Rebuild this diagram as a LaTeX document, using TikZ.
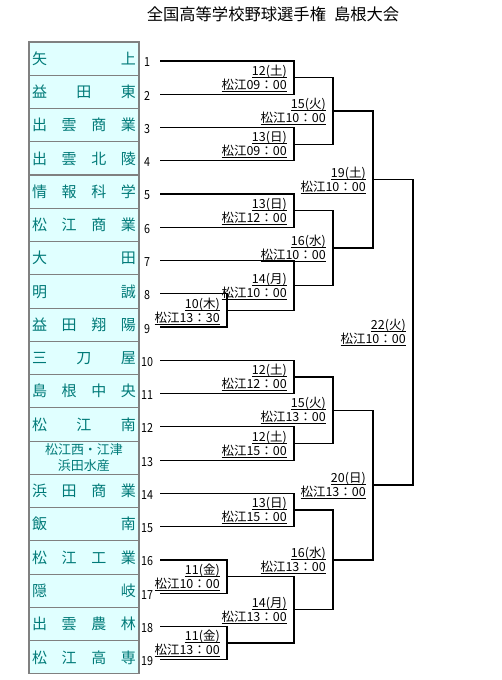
\documentclass[tikz,border=0pt]{standalone}
\usepackage{fontspec}
\setmainfont{Noto Sans CJK JP}
\newfontfamily\jpnarrow[FakeStretch=0.86]{Noto Sans CJK JP}
\definecolor{boxfill}{HTML}{E0FFFF}
\definecolor{boxline}{HTML}{808080}
\definecolor{teamtxt}{HTML}{007A78}
\newcommand{\teamtext}[1]{\raisebox{-2.5pt}{\makebox[104pt]{#1}}}
\newcommand{\ulne}[1]{\setbox0=\hbox{#1}\rlap{\rule[-2.4pt]{\wd0}{0.9pt}}\box0}
\newcommand{\datelabel}[2]{\ulne{#1}\\\ulne{#2}}
\tikzset{
  team/.style={draw=boxline, fill=boxfill, line width=1.1pt, minimum width=110pt,
    minimum height=33.26pt, inner sep=0pt, text=teamtxt,
    font=\fontsize{15}{15}\selectfont},
  teamnum/.style={inner sep=0pt, font=\jpnarrow\fontsize{12.5}{12.5}\selectfont},
  datelbl/.style={anchor=east, align=right, inner sep=0pt,
    font=\fontsize{12.5}{14}\selectfont},
  bracket/.style={line width=1.25pt, black},
  titletxt/.style={inner sep=0pt, font=\fontsize{16.3}{16.3}\selectfont}
}
\begin{document}
\begin{tikzpicture}[x=1pt,y=-1pt]
\useasboundingbox (0,0) rectangle (502,680);
\node[titletxt] (title) at (273,14) {全国高等学校野球選手権\hspace{8pt}島根大会};
\foreach \i/\name in {1/{矢\hfill 上},2/{益\hfill 田\hfill 東},3/{出\hfill 雲\hfill 商\hfill 業},
  4/{出\hfill 雲\hfill 北\hfill 陵},5/{情\hfill 報\hfill 科\hfill 学},6/{松\hfill 江\hfill 商\hfill 業},
  7/{大\hfill 田},8/{明\hfill 誠},9/{益\hfill 田\hfill 翔\hfill 陽},10/{三\hfill 刀\hfill 屋},
  11/{島\hfill 根\hfill 中\hfill 央},12/{松\hfill 江\hfill 南},14/{浜\hfill 田\hfill 商\hfill 業},
  15/{飯\hfill 南},16/{松\hfill 江\hfill 工\hfill 業},17/{隠\hfill 岐},18/{出\hfill 雲\hfill 農\hfill 林},
  19/{松\hfill 江\hfill 高\hfill 専}} {
  \node[team] (team\i) at (84,{58.63+33.26*(\i-1)}) {\teamtext{\name}};
}
\node[team, align=center, font=\fontsize{13}{17}\selectfont] (team13) at (84,457.75)
  {\raisebox{-1pt}{松江西・江津}\\浜田水産};
\foreach \i in {1,...,19} {
  \node[teamnum] (num\i) at (147,{62.5+33.26*(\i-1)}) {\i};
  \coordinate (t\i) at (160,{61+33.26*(\i-1)});
}
% match junctions
\coordinate (m1) at (294,77.63);
\coordinate (m2) at (294,144.15);
\coordinate (m3) at (333,110.89);
\coordinate (m4) at (294,210.67);
\coordinate (m5) at (227,310.45);
\coordinate (m6) at (294,285.51);
\coordinate (m7) at (333,248.09);
\coordinate (m8) at (373,179.49);
\coordinate (m9) at (294,376.97);
\coordinate (m10) at (294,443.49);
\coordinate (m11) at (333,410.23);
\coordinate (m12) at (294,510.01);
\coordinate (m13) at (227,576.53);
\coordinate (m14) at (227,643.05);
\coordinate (m15) at (294,609.79);
\coordinate (m16) at (333,559.90);
\coordinate (m17) at (373,485.07);
\coordinate (mf) at (413,332.28);
% brackets
\draw[bracket] (t1) -| (m1) |- (t2);
\draw[bracket] (t3) -| (m2) |- (t4);
\draw[bracket] (m1) -| (m3) |- (m2);
\draw[bracket] (t5) -| (m4) |- (t6);
\draw[bracket] (t8) -| (m5) |- (t9);
\draw[bracket] (t7) -| (m6) |- (m5);
\draw[bracket] (m4) -| (m7) |- (m6);
\draw[bracket] (m3) -| (m8) |- (m7);
\draw[bracket] (t10) -| (m9) |- (t11);
\draw[bracket] (t12) -| (m10) |- (t13);
\draw[bracket] (m9) -| (m11) |- (m10);
\draw[bracket] (t14) -| (m12) |- (t15);
\draw[bracket] (t16) -| (m13) |- (t17);
\draw[bracket] (t18) -| (m14) |- (t19);
\draw[bracket] (m13) -| (m15) |- (m14);
\draw[bracket] (m12) -| (m16) |- (m15);
\draw[bracket] (m11) -| (m17) |- (m16);
\draw[bracket] (m8) -| (mf) |- (m17);
% date labels
\node[datelbl] (d1) at (287,78.3) {\datelabel{12(土)}{松江09：00}};
\node[datelbl] (d2) at (287,144.8) {\datelabel{13(日)}{松江09：00}};
\node[datelbl] (d3) at (326,111.5) {\datelabel{15(火)}{松江10：00}};
\node[datelbl] (d4) at (287,211.3) {\datelabel{13(日)}{松江12：00}};
\node[datelbl] (d5) at (220,311.1) {\datelabel{10(木)}{松江13：30}};
\node[datelbl] (d6) at (287,286.1) {\datelabel{14(月)}{松江10：00}};
\node[datelbl] (d7) at (326,248.7) {\datelabel{16(水)}{松江10：00}};
\node[datelbl] (d8) at (366,180.1) {\datelabel{19(土)}{松江10：00}};
\node[datelbl] (d9) at (287,377.6) {\datelabel{12(土)}{松江12：00}};
\node[datelbl] (d10) at (287,444.1) {\datelabel{12(土)}{松江15：00}};
\node[datelbl] (d11) at (326,410.8) {\datelabel{15(火)}{松江13：00}};
\node[datelbl] (d12) at (287,510.6) {\datelabel{13(日)}{松江15：00}};
\node[datelbl] (d13) at (220,577.1) {\datelabel{11(金)}{松江10：00}};
\node[datelbl] (d14) at (220,643.6) {\datelabel{11(金)}{松江13：00}};
\node[datelbl] (d15) at (287,610.4) {\datelabel{14(月)}{松江13：00}};
\node[datelbl] (d16) at (326,560.5) {\datelabel{16(水)}{松江13：00}};
\node[datelbl] (d17) at (366,485.7) {\datelabel{20(日)}{松江13：00}};
\node[datelbl] (df) at (406,332.9) {\datelabel{22(火)}{松江10：00}};
\end{tikzpicture}
\end{document}
